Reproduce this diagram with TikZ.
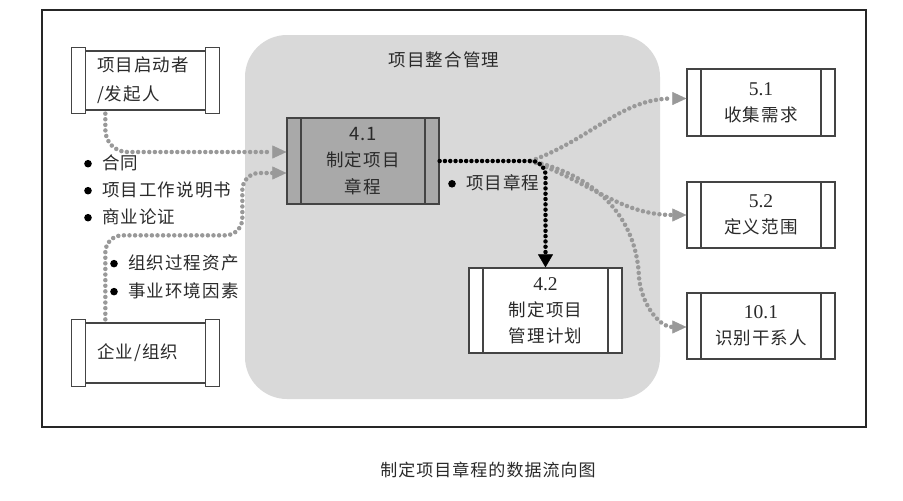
\documentclass[tikz,border=0pt]{standalone}
\usepackage{fontspec}
\setmainfont{Noto Sans CJK SC}[LetterSpace=6]
\newfontfamily\numserif{Liberation Serif}
\usetikzlibrary{arrows.meta,calc}
\definecolor{linec}{HTML}{444444}
\definecolor{txt}{HTML}{2A2A2A}
\definecolor{regionc}{HTML}{D9D9D9}
\definecolor{darkbox}{HTML}{A9A9A9}
\definecolor{gdot}{HTML}{999999}
\newcommand{\bul}{\tikz[baseline=-6pt]\fill[black] (0,0) circle (3.8pt);\hspace{10.5pt}}
\tikzset{
  boxline/.style={draw=linec, line width=1.3pt},
  proc/.style={boxline, fill=white, minimum width=148pt, minimum height=66pt,
    inner sep=0pt, align=center, text=txt, font=\fontsize{17.5}{26}\selectfont,
    path picture={\draw[linec, line width=1.3pt]
      ([xshift=14pt]path picture bounding box.north west) -- ([xshift=14pt]path picture bounding box.south west)
      ([xshift=-14pt]path picture bounding box.north east) -- ([xshift=-14pt]path picture bounding box.south east);}},
  scrollbody/.style={boxline, fill=white, minimum width=147pt, inner sep=0pt,
    text width=97pt, align=left, text=txt},
  lbl/.style={inner sep=0pt, text=txt, align=left},
  gflow/.style={draw=gdot, line width=4.5pt, line cap=round, dash pattern=on 0pt off 5.6pt,
    -{Triangle[length=14pt,width=13pt,line width=0.4pt,fill=gdot]}},
  bflow/.style={draw=black, line width=4.5pt, line cap=round, dash pattern=on 0pt off 5.3pt,
    -{Triangle[length=13pt,width=15pt,line width=0.4pt,fill=black]}},
}
\begin{document}
\begin{tikzpicture}[x=1pt,y=-1pt]
\useasboundingbox (0,0) rectangle (903,501);
\fill[white] (0,0) rectangle (903,501);
% outer frame
\draw[draw=black!85, line width=2pt] (42,10) rectangle (866,427);
% integration region
\fill[regionc, rounded corners=42pt] (245,35) rectangle (660,399);
\node[lbl, font=\fontsize{17.5}{17.5}\selectfont] (title) at (444,60) {项目整合管理};

% scroll boxes
\node[scrollbody, minimum height=59pt, font=\fontsize{17.5}{29}\selectfont] (sponsor) at (145.5,80.5) {项目启动者\\/发起人};
\draw[boxline, fill=white] ($(sponsor.north west)+(0,-3)$) rectangle ($(sponsor.south west)+(14,3)$);
\draw[boxline, fill=white] ($(sponsor.north east)+(-14,-3)$) rectangle ($(sponsor.south east)+(0,3)$);

\node[scrollbody, minimum height=60pt, font=\fontsize{17.5}{26}\selectfont] (org) at (145.5,353) {企业/组织};
\draw[boxline, fill=white] ($(org.north west)+(0,-3)$) rectangle ($(org.south west)+(14,3)$);
\draw[boxline, fill=white] ($(org.north east)+(-14,-3)$) rectangle ($(org.south east)+(0,3)$);

% process boxes
\node[proc, fill=darkbox, minimum width=152pt, minimum height=86pt, font=\fontsize{17.5}{26.5}\selectfont] (charter) at (363,161)
  {{\fontsize{18.5}{26.5}\selectfont 4.1}\\制定项目\\章程};
\node[proc, minimum width=153pt, minimum height=85pt, font=\fontsize{17.5}{26}\selectfont] (plan) at (545.5,310.5)
  {{\numserif\fontsize{19.5}{26}\selectfont 4.2}\\制定项目\\管理计划};
\node[proc, minimum height=67pt] (c51) at (761,102.5)
  {{\numserif\fontsize{19.5}{26}\selectfont 5.1}\\收集需求};
\node[proc] (c52) at (761,215)
  {{\numserif\fontsize{19.5}{26}\selectfont 5.2}\\定义范围};
\node[proc] (c101) at (761,326)
  {{\numserif\fontsize{19.5}{26}\selectfont 10.1}\\识别干系人};

% bullet labels
\node[lbl, anchor=west, font=\fontsize{17.5}{27}\selectfont] (inlist) at (84,190)
  {\bul 合同\\\bul 项目工作说明书\\\bul 商业论证};
\node[lbl, anchor=west, font=\fontsize{17.5}{28}\selectfont] (orglist) at (110,277)
  {\bul 组织过程资产\\\bul 事业环境因素};
\node[lbl, anchor=west, font=\fontsize{17.5}{17.5}\selectfont] (outlbl) at (448,183)
  {\bul 项目章程};

% caption
\node[lbl, font=\fontsize{17}{17}\selectfont] (caption) at (488,470) {制定项目章程的数据流向图};

% connectors
\coordinate (split) at ($(charter.east)+(91,0)$);
\draw[gflow, rounded corners=22pt] ($(sponsor.south west)+(34,3)$) |- ($(charter.west)+(0,-9)$);
\draw[gflow, rounded corners=17pt] ($(org.north west)+(34,-3)$) -- ++(0,-84) -- ++(137,0) |- ($(charter.west)+(0,12)$);
\draw[gflow] (split) to[out=20,in=180] ($(c51.west)+(0,-4)$);
\draw[gflow] (split) to[out=-20,in=180] (c52.west);
\draw[gflow] (split) to[out=-12,in=95] ($(split)+(108,110)$) to[out=-90,in=180] ($(c101.west)+(0,1)$);
\draw[bflow, rounded corners=14pt] (charter.east) -| (plan.north);
\end{tikzpicture}
\end{document}
